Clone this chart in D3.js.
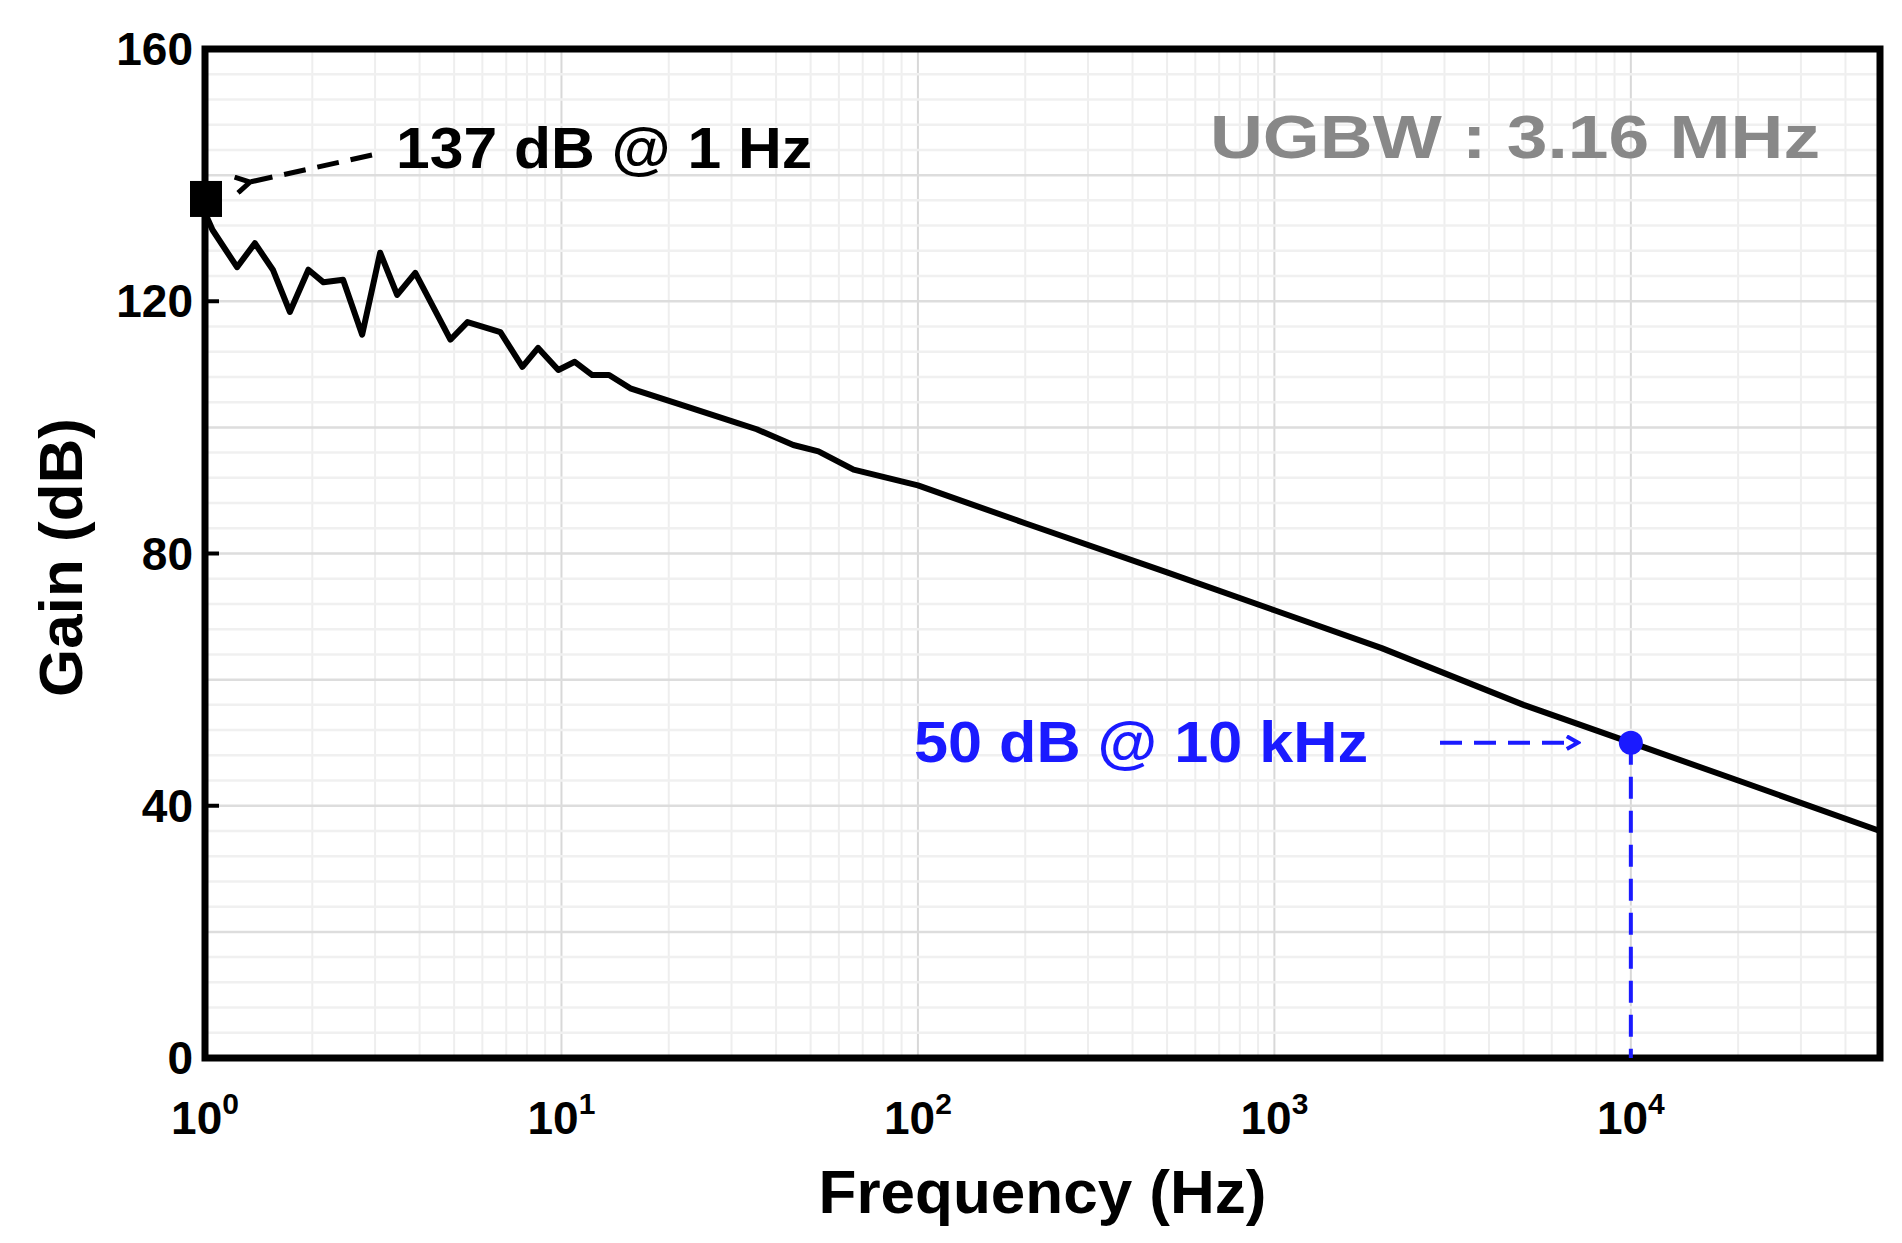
<!DOCTYPE html>
<html><head><meta charset="utf-8">
<script src="https://cdn.jsdelivr.net/npm/d3@7"></script>
<style>body{margin:0;background:#fff}</style>
</head><body><div id="chart"></div>
<script>
// frequency (Hz) and gain (dB)
var freq = [1, 1.05, 1.23, 1.38, 1.55, 1.73, 1.95, 2.15, 2.44, 2.76, 3.1, 3.46, 3.89, 4.88, 5.45, 6.74, 7.77, 8.6, 9.8, 10.9, 12.2, 13.6, 15.6, 21.6, 30, 35.3, 44.7, 52.6, 66, 100, 200, 500, 1000, 2000, 5000, 10000, 20000, 50000];
var gain = [134, 131.3, 125.4, 129.2, 125, 118.3, 125, 123, 123.4, 114.7, 127.7, 121, 124.5, 113.9, 116.7, 115.1, 109.6, 112.6, 109.1, 110.4, 108.3, 108.3, 106.2, 103.6, 101, 99.7, 97.2, 96.2, 93.3, 90.8, 84.8, 77, 71, 65, 56, 50, 44, 36];
var yTicks = [0, 40, 80, 120, 160];
var xTicks = [1, 10, 100, 1000, 10000];
var marker1 = {f: 1, g: 134, text: "137 dB @ 1 Hz"};
var marker2 = {f: 10000, g: 50, text: "50 dB @ 10 kHz"};
var ugbwText = "UGBW : 3.16 MHz";

var W = 1902, H = 1243;
var m = {l: 205, r: 22, t: 49, b: 185};
var svg = d3.select("#chart").append("svg").attr("width", W).attr("height", H)
  .style("font-family", "'Liberation Sans', Arial, sans-serif").style("font-weight", "bold");

var x = d3.scaleLog().domain([1, 50000]).range([m.l, W - m.r]);
var y = d3.scaleLinear().domain([0, 160]).range([H - m.b, m.t]);

// grid
var minorX = [];
for (var d = 1; d < 100000; d *= 10) for (var k = 1; k < 10; k++) if (d * k <= 50000) minorX.push(d * k);
svg.append("g").selectAll("line").data(minorX).enter().append("line")
  .attr("x1", function (d) { return x(d); }).attr("x2", function (d) { return x(d); })
  .attr("y1", y(0)).attr("y2", y(160))
  .attr("stroke", function (d) { return xTicks.indexOf(d) >= 0 ? "#d8d8d8" : "#eeeeee"; })
  .attr("stroke-width", function (d) { return xTicks.indexOf(d) >= 0 ? 2 : 2; });
svg.append("g").selectAll("line").data(d3.range(0, 161, 4)).enter().append("line")
  .attr("x1", x(1)).attr("x2", x(50000))
  .attr("y1", function (d) { return y(d); }).attr("y2", function (d) { return y(d); })
  .attr("stroke", function (d) { return d % 20 == 0 ? "#dddddd" : "#f0f0f0"; })
  .attr("stroke-width", 2.5);

// curve
var pts = freq.map(function (f, i) { return [f, gain[i]]; });
svg.append("path").datum(pts)
  .attr("d", d3.line().x(function (d) { return x(d[0]); }).y(function (d) { return y(d[1]); }))
  .attr("fill", "none").attr("stroke", "#000").attr("stroke-width", 6).attr("stroke-linejoin", "round");

// frame
svg.append("rect").attr("x", x(1)).attr("y", y(160)).attr("width", x(50000) - x(1)).attr("height", y(0) - y(160))
  .attr("fill", "none").attr("stroke", "#000").attr("stroke-width", 7);

// y axis labels
svg.append("g").selectAll("text").data(yTicks).enter().append("text")
  .attr("x", x(1) - 12).attr("y", function (d) { return y(d) + 16; })
  .attr("text-anchor", "end").attr("font-size", 46).text(function (d) { return d; });
svg.append("g").selectAll("line").data(yTicks).enter().append("line")
  .attr("x1", x(1)).attr("x2", x(1) + 14).attr("y1", function (d) { return y(d); }).attr("y2", function (d) { return y(d); })
  .attr("stroke", "#000").attr("stroke-width", 4);

// x axis labels
var xl = svg.append("g").selectAll("text").data(xTicks).enter().append("text")
  .attr("x", function (d) { return x(d); }).attr("y", 1134).attr("text-anchor", "middle").attr("font-size", 46);
xl.append("tspan").text("10");
xl.append("tspan").attr("dy", -20).attr("font-size", 30).text(function (d) { return Math.round(Math.log10(d)); });

// axis titles
svg.append("text").attr("x", (x(1) + x(50000)) / 2).attr("y", 1213).attr("text-anchor", "middle")
  .attr("font-size", 62).text("Frequency (Hz)");
svg.append("text").attr("transform", "translate(82," + (y(80) + 4) + ") rotate(-90)")
  .attr("text-anchor", "middle").attr("font-size", 62).text("Gain (dB)");

// markers / annotations
svg.append("defs").html(
  '<marker id="ab" viewBox="0 0 10 10" refX="2" refY="5" markerWidth="4" markerHeight="4" orient="auto-start-reverse"><path d="M9,1 L2,5 L9,9" fill="none" stroke="#000" stroke-width="2.5"/></marker>' +
  '<marker id="abl" viewBox="0 0 10 10" refX="8" refY="5" markerWidth="4" markerHeight="4" orient="auto"><path d="M1,1 L8,5 L1,9" fill="none" stroke="#1a1aff" stroke-width="2.5"/></marker>');

svg.append("rect").attr("x", x(marker1.f) - 15).attr("y", y(marker1.g) - 32).attr("width", 32).attr("height", 36).attr("fill", "#000");
svg.append("line").attr("x1", 372).attr("y1", 155).attr("x2", 250).attr("y2", 182)
  .attr("stroke", "#000").attr("stroke-width", 5).attr("stroke-dasharray", "22,12").attr("marker-end", "url(#ab)");
svg.append("text").attr("x", 396).attr("y", 168).attr("font-size", 58).attr("textLength", 416).attr("lengthAdjust", "spacingAndGlyphs").text(marker1.text);

svg.append("text").attr("x", 1210).attr("y", 158).attr("font-size", 62).attr("fill", "#888").attr("textLength", 610).attr("lengthAdjust", "spacingAndGlyphs").text(ugbwText);

var bx = x(marker2.f), by = y(marker2.g);
svg.append("line").attr("x1", bx).attr("x2", bx).attr("y1", by).attr("y2", y(0))
  .attr("stroke", "#1a1aff").attr("stroke-width", 4).attr("stroke-dasharray", "22,12");
svg.append("line").attr("x1", 1440).attr("x2", 1578).attr("y1", by).attr("y2", by)
  .attr("stroke", "#1a1aff").attr("stroke-width", 4).attr("stroke-dasharray", "22,12").attr("marker-end", "url(#abl)");
svg.append("circle").attr("cx", bx).attr("cy", by).attr("r", 12).attr("fill", "#1a1aff");
svg.append("text").attr("x", 914).attr("y", 762).attr("font-size", 58).attr("fill", "#1a1aff").attr("textLength", 454).attr("lengthAdjust", "spacingAndGlyphs").text(marker2.text);
</script></body></html>
